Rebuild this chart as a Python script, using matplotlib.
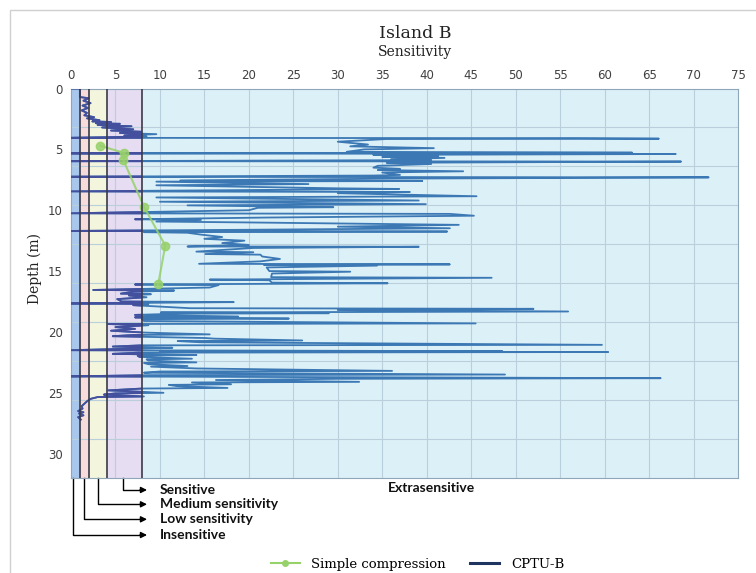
import matplotlib
matplotlib.use("Agg")
import matplotlib.pyplot as plt
import matplotlib.transforms as mtransforms
from matplotlib.patches import Rectangle
from matplotlib.lines import Line2D

# =========================
# data
# =========================
x_ticks = [0, 5, 10, 15, 20, 25, 30, 35, 40, 45, 50, 55, 60, 65, 70, 75]
y_ticks = [0, 5, 10, 15, 20, 25, 30]

# sensitivity classes (lower edge, upper edge)
class_edges = [0, 1, 2, 4, 8, 75]
class_colors = ["#a9c7ec", "#f7dcdc", "#f3f5dd", "#e6ddf2", "#dcf0f8"]
class_names = ["Insensitive", "Low sensitivity", "Medium sensitivity", "Sensitive"]
class_pointer_x = [0.25, 1.5, 3.0, 5.9]

# simple compression tests
sc_depth = [4.7, 5.3, 5.9, 9.7, 12.9, 16.1]
sc_sens = [3.3, 6.0, 5.9, 8.2, 10.6, 9.8]

# CPTU-B profile: (depth m, sensitivity)
cptu_points = [
    (0.0, 0.0), (0.0, 1.0), (0.7, 1.0), (0.8, 2.0), (1.0, 1.4), (1.2, 2.2),
    (1.4, 1.3), (1.6, 1.9), (1.8, 1.2), (2.0, 1.8), (2.2, 1.5), (2.35, 2.6),
    (2.45, 1.8), (2.6, 3.2), (2.7, 2.4), (2.75, 4.5), (2.85, 2.8), (2.9, 5.5),
    (3.0, 3.0), (3.1, 6.8), (3.2, 3.5), (3.35, 7.0), (3.45, 4.5), (3.55, 7.9),
    (3.65, 5.5), (3.75, 9.6), (3.85, 6.0), (3.95, 8.5),
    (4.05, 0.0), (4.08, 57.0), (4.12, 66.1), (4.15, 35.4), (4.37, 30.0),
    (4.6, 33.4), (4.75, 31.4), (4.9, 40.8), (5.0, 33.0), (5.2, 31.0),
    (5.27, 63.1), (5.33, 0.0), (5.38, 68.0), (5.45, 34.0), (5.55, 41.3),
    (5.62, 35.0), (5.7, 42.0), (5.8, 36.0), (5.88, 40.5), (5.97, 0.0),
    (6.0, 68.6), (6.1, 35.5), (6.2, 40.5), (6.35, 34.5), (6.5, 34.0),
    (6.6, 37.0), (6.7, 34.5), (6.8, 44.1), (6.9, 35.0), (7.1, 37.0),
    (7.15, 34.0), (7.25, 0.0), (7.3, 71.7), (7.4, 37.0), (7.55, 12.3),
    (7.6, 39.5), (7.65, 9.6), (7.85, 26.7), (7.9, 18.0), (7.95, 9.6),
    (8.2, 30.0), (8.25, 36.9), (8.4, 9.0), (8.45, 0.0), (8.5, 38.1),
    (8.6, 30.0), (8.85, 45.6), (8.95, 9.6), (9.2, 39.1), (9.3, 10.0),
    (9.5, 39.9), (9.6, 13.1), (9.75, 29.5), (9.8, 21.0), (10.0, 20.0),
    (10.25, 0.0), (10.3, 42.6), (10.45, 45.3), (10.6, 22.0), (10.74, 7.2),
    (10.8, 14.6), (10.93, 9.6), (11.0, 19.6), (11.2, 43.6), (11.35, 30.0),
    (11.48, 42.6), (11.6, 20.8), (11.7, 0.0), (11.75, 42.3), (11.8, 8.2),
    (11.85, 13.1), (12.0, 14.6), (12.2, 17.0), (12.35, 15.0), (12.5, 19.5),
    (12.7, 17.0), (12.85, 20.0), (12.98, 13.1), (13.0, 39.1), (13.1, 20.5),
    (13.4, 14.1), (13.45, 20.5), (13.6, 15.1), (13.65, 21.3), (13.8, 21.5),
    (14.0, 23.5), (14.2, 21.3), (14.4, 14.4), (14.45, 42.6), (14.5, 21.7),
    (14.55, 34.4), (14.7, 22.0), (15.0, 22.3), (15.05, 31.4), (15.2, 22.6),
    (15.5, 22.5), (15.55, 47.3), (15.7, 15.6), (15.75, 22.3), (15.95, 22.6),
    (16.0, 35.6), (16.1, 7.2), (16.15, 16.6), (16.35, 15.6), (16.55, 2.5),
    (16.6, 11.6), (16.7, 7.0), (16.85, 5.6), (16.9, 9.0), (17.0, 6.5),
    (17.15, 8.5), (17.3, 5.2), (17.5, 5.7), (17.55, 18.3), (17.66, 0.0),
    (17.7, 8.7), (17.8, 7.0), (18.05, 13.4), (18.1, 52.0), (18.2, 30.0),
    (18.32, 55.9), (18.4, 10.1), (18.46, 29.0), (18.5, 12.0), (18.6, 7.2),
    (18.73, 18.8), (18.8, 7.2), (18.9, 24.5), (18.95, 8.0), (19.1, 8.2),
    (19.3, 45.5), (19.35, 4.2), (19.45, 8.7), (19.6, 5.0), (19.75, 7.2),
    (19.9, 4.5), (20.05, 8.2), (20.2, 15.6), (20.25, 7.0), (20.35, 4.7),
    (20.5, 15.1), (20.55, 16.1), (20.7, 26.0), (20.75, 12.0), (20.85, 14.6),
    (21.06, 59.7), (21.1, 8.0), (21.2, 4.7), (21.3, 11.4), (21.35, 8.0),
    (21.5, 0.0), (21.58, 48.5), (21.62, 10.0), (21.65, 60.4), (21.7, 7.6),
    (21.8, 4.7), (21.9, 14.1), (21.95, 7.5), (22.05, 7.7), (22.2, 13.6),
    (22.25, 8.5), (22.35, 8.7), (22.5, 14.1), (22.55, 8.2), (22.65, 8.7),
    (22.8, 13.1), (22.85, 9.0), (23.0, 14.1), (23.2, 36.1), (23.25, 10.0),
    (23.35, 8.2), (23.5, 48.8), (23.55, 9.0), (23.65, 0.0), (23.8, 66.3),
    (23.85, 30.0), (23.95, 16.3), (24.1, 32.4), (24.15, 13.6), (24.3, 18.0),
    (24.35, 11.0), (24.45, 11.9), (24.6, 17.6), (24.65, 8.0), (24.8, 4.2),
    (25.0, 10.4), (25.05, 5.0), (25.15, 3.7), (25.3, 8.2), (25.35, 3.0),
    (25.5, 2.2), (25.7, 1.8), (25.9, 1.5), (26.1, 1.2), (26.3, 1.3),
    (26.5, 0.8), (26.6, 1.4), (26.7, 0.9), (26.85, 1.4), (27.0, 0.8),
    (27.2, 1.1),
]
cptu_depth = [p[0] for p in cptu_points]
cptu_sens = [p[1] for p in cptu_points]

# =========================
# figure
# =========================
fig = plt.figure(figsize=(7.56, 5.73), dpi=100)
fig.patches.append(Rectangle((10 / 756, -0.1), 1.2, 1 - 10 / 573 + 0.1,
                             transform=fig.transFigure, fill=False,
                             edgecolor="#d0d0d0", lw=1.0))

ax = fig.add_axes([0.0939, 0.1658, 0.8823, 0.6797])

# class bands
for lo, hi, c in zip(class_edges[:-1], class_edges[1:], class_colors):
    ax.axvspan(lo, hi, color=c, zorder=0, lw=0)

# background grid (10 divisions in depth, every 5 in sensitivity)
for k in range(1, 10):
    ax.axhline(32 * k / 10, color="#b9cfdb", lw=0.8, zorder=1)
for xv in x_ticks[1:-1]:
    ax.axvline(xv, color="#b9cfdb", lw=0.8, zorder=1)

ax.plot(cptu_sens, cptu_depth, color="#3b78b4", lw=1.3, zorder=3)

# same profile drawn darker inside the low-sensitivity bands
low_zone = Rectangle((0, 0), class_edges[4], 32, transform=ax.transData)
dark_line, = ax.plot(cptu_sens, cptu_depth, color="#44509e", lw=1.3, zorder=3)
dark_line.set_clip_path(low_zone)

ax.plot(sc_sens, sc_depth, color="#97d16a", lw=1.5, marker="o", ms=6,
        zorder=4, alpha=0.85)

for edge in class_edges[1:-1]:
    ax.axvline(edge, color="#3a3a48", lw=1.2, zorder=5)

ax.set_xlim(0, 75)
ax.set_ylim(32, 0)
ax.xaxis.tick_top()
ax.set_xticks(x_ticks)
ax.set_yticks(y_ticks)
ax.tick_params(length=0, labelsize=8.5, labelcolor="#404040")
ax.tick_params(axis="x", pad=5)
ax.tick_params(axis="y", pad=6)
for s in ax.spines.values():
    s.set_color("#8fa5b8")
    s.set_linewidth(0.8)

serif = "DejaVu Serif"
fig.text(0.549, 0.942, "Island B", ha="center", va="center",
         family=serif, fontsize=12.5, color="#222222")
fig.text(0.549, 0.909, "Sensitivity", ha="center", va="center",
         family=serif, fontsize=10, color="#222222")
fig.text(0.046, 0.532, "Depth (m)", ha="center", va="center", rotation=90,
         family=serif, fontsize=10, color="#222222")

# =========================
# class pointers below the axes
# =========================
blend = mtransforms.blended_transform_factory(ax.transData, fig.transFigure)
bottom_fy = 0.1658
line_fy = [0.0663, 0.0937, 0.1199, 0.1449]
arrow_end = 8.55
for name, xv, fy in zip(class_names, class_pointer_x, line_fy):
    ax.plot([xv, xv, arrow_end - 0.6], [bottom_fy, fy, fy], color="black",
            lw=1.0, transform=blend, clip_on=False)
    ax.annotate("", xy=(arrow_end, fy), xytext=(arrow_end - 0.8, fy),
                xycoords=blend, textcoords=blend,
                arrowprops=dict(arrowstyle="-|>", color="black", lw=1.0,
                                mutation_scale=9, shrinkA=0, shrinkB=0))
    ax.text(10.0, fy, name, transform=blend, ha="left", va="center",
            fontsize=10, fontweight="bold", family="Lato", color="#111111")

ax.text(40.5, 0.149, "Extrasensitive", transform=blend, ha="center",
        va="center", fontsize=10, fontweight="bold", family="Lato",
        color="#111111")

# =========================
# legend
# =========================
handles = [
    Line2D([], [], color="#97d16a", lw=1.5, marker="o", ms=4),
    Line2D([], [], color="#1f3560", lw=2.2),
]
fig.legend(handles, ["Simple compression", "CPTU-B"], loc="center",
           bbox_to_anchor=(0.552, 0.015), ncol=2, frameon=False,
           prop={"family": serif, "size": 9.5}, handlelength=2.2,
           handletextpad=0.9, columnspacing=1.8)

plt.savefig("out.png", dpi=100)
plt.close()
